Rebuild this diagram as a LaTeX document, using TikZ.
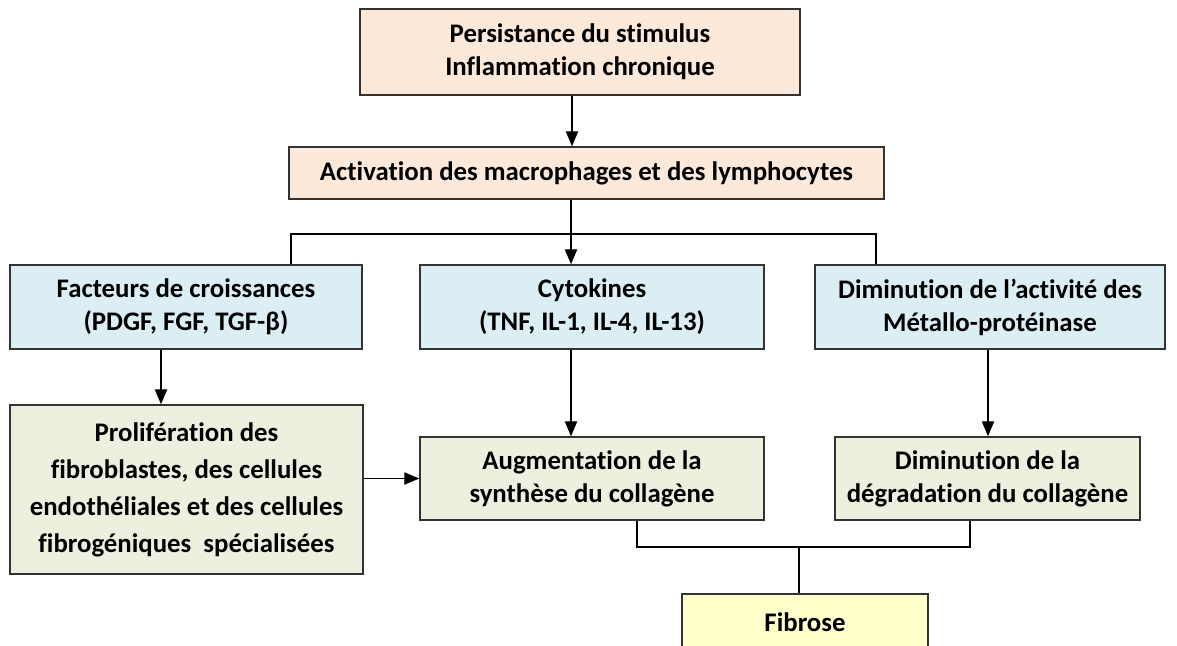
\documentclass[tikz,border=0pt]{standalone}
\usepackage{fontspec}
\setmainfont{Carlito}[Ligatures=NoCommon]
\usetikzlibrary{arrows}

\definecolor{peach}{HTML}{FDE9D9}
\definecolor{paleblue}{HTML}{DBEEF4}
\definecolor{palegreen}{HTML}{EBF1DE}
\definecolor{paleyellow}{HTML}{FFFFCC}

\begin{document}
\begin{tikzpicture}[x=0.5pt,y=-0.5pt]
			\tikzstyle{box}=[rectangle,draw=black!80,line width=0.8pt,align=center,inner sep=2pt,
				font=\bfseries\fontsize{13.4}{16.5}\selectfont]
			\tikzstyle{cause}=[box,fill=peach]
			\tikzstyle{agent}=[box,fill=paleblue,minimum height=42pt]
			\tikzstyle{effet}=[box,fill=palegreen]
			\tikzstyle{fin}=[box,fill=paleyellow]
			\tikzstyle{fleche}=[->,>=triangle 45,line width=0.7pt]
			\tikzstyle{trait}=[line width=0.7pt]
			
			\useasboundingbox (0,0) rectangle (1177,645);
			
			\node[cause,minimum width=220pt,minimum height=43pt] (stimulus) at (580,52) {Persistance du stimulus\\Inflammation chronique};
			\node[cause,minimum width=297.5pt,minimum height=26pt] (activation) at (586.5,173) {Activation des macrophages et des lymphocytes};
			
			\node[agent,minimum width=176pt] (facteurs) at (186,307) {Facteurs de croissances\\(PDGF, FGF, TGF-β)};
			\node[agent,minimum width=172pt] (cytokines) at (592,307) {Cytokines\\(TNF, IL-1, IL-4, IL-13)};
			\node[agent,minimum width=175pt] (metallo) at (990,307) {Diminution de l’activité des\\Métallo-protéinase};
			
			\node[effet,minimum width=176.5pt,minimum height=84.5pt,font=\bfseries\fontsize{13.4}{18.5}\selectfont] (proliferation) at (186.5,489.5)
				{Prolifération des\\fibroblastes, des cellules\\endothéliales et des cellules\\fibrogéniques~ spécialisées};
			\node[effet,minimum width=172pt,minimum height=41.5pt] (synthese) at (592,478.5) {Augmentation de la\\synthèse du collagène};
			\node[effet,minimum width=152.5pt,minimum height=41.5pt] (degradation) at (987.5,478.5) {Diminution de la\\dégradation du collagène};
			
			\node[fin,minimum width=123pt,minimum height=28pt] (fibrose) at (805,622) {Fibrose};
			
			% points de passage
			\coordinate (xhaut) at (572,0);
			\coordinate (xmilieu) at (571,0);
			\coordinate (xgauche) at (161,0);
			\coordinate (xdroite) at (988,0);
			\coordinate (busg) at (291,234);
			\coordinate (busd) at (876,234);
			\coordinate (basg) at (637,547);
			\coordinate (basd) at (970,547);
			\coordinate (basm) at (799,547);
			
			\draw[fleche] (stimulus.south -| xhaut) -- (activation.north -| xhaut);
			\draw[fleche] (activation.south -| xmilieu) -- (cytokines.north -| xmilieu);
			\draw[trait] (facteurs.north -| busg) -- (busg) -- (busd) -- (metallo.north -| busd);
			
			\draw[fleche] (facteurs.south -| xgauche) -- (proliferation.north -| xgauche);
			\draw[fleche] (cytokines.south -| xmilieu) -- (synthese.north -| xmilieu);
			\draw[fleche] (metallo.south -| xdroite) -- (degradation.north -| xdroite);
			\draw[fleche] (proliferation.east |- synthese.west) -- (synthese.west);
			
			\draw[trait] (synthese.south -| basg) -- (basg) -- (basd) -- (degradation.south -| basd);
			\draw[trait] (basm) -- (fibrose.north -| basm);
\end{tikzpicture}
\end{document}
